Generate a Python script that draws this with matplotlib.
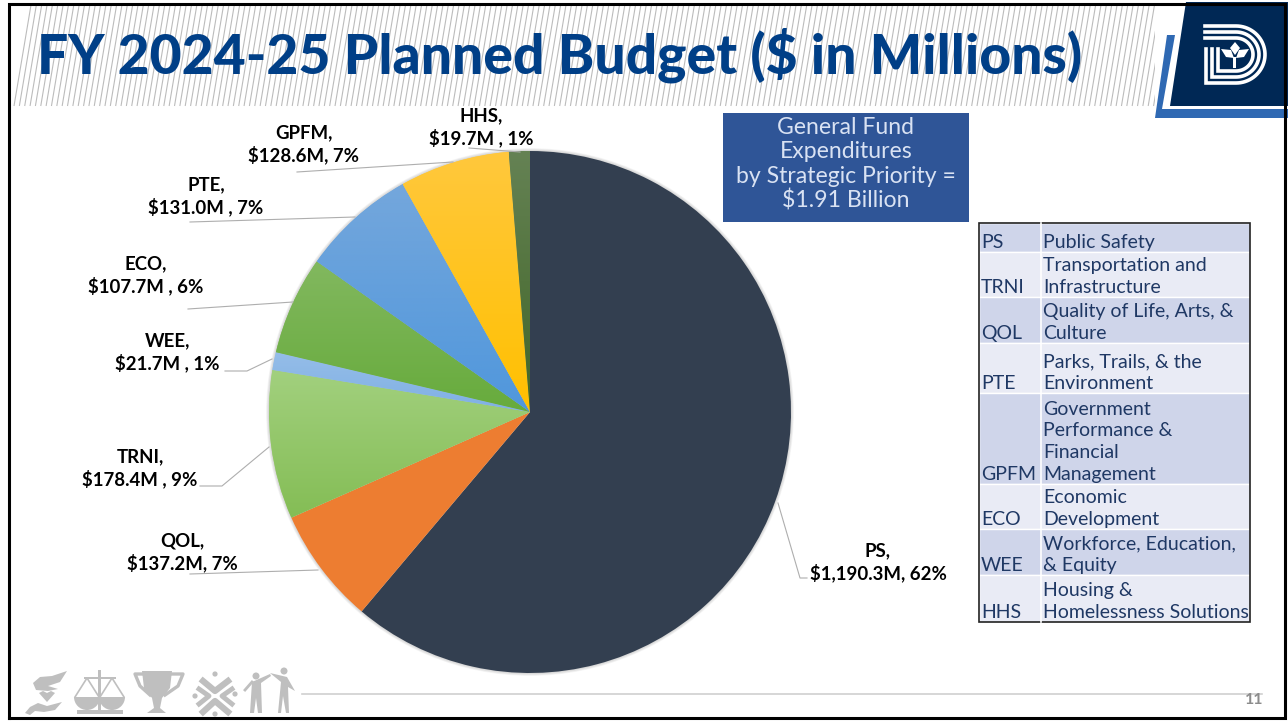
import matplotlib
matplotlib.use("Agg")
import matplotlib.pyplot as plt
import numpy as np
from matplotlib.collections import LineCollection
from matplotlib.patches import Polygon, Rectangle, Circle, Wedge

W, H = 1288, 721

title = "FY 2024-25 Planned Budget ($ in Millions)"
codes = ["PS", "QOL", "TRNI", "WEE", "ECO", "PTE", "GPFM", "HHS"]
# shares as the slices are drawn in the picture, in percent
shares = [61.1, 7.2, 9.2, 1.1, 6.1, 7.1, 6.8, 1.3]
amounts = ["$1,190.3M", "$137.2M", "$178.4M ", "$21.7M ", "$107.7M ", "$131.0M ", "$128.6M", "$19.7M "]
percents = ["62%", "7%", "9%", "1%", "6%", "7%", "7%", "1%"]
top_colors = ["#333f50", "#ed7d31", "#a2d07e", "#95bde8", "#82b85f", "#74a7dc", "#ffc83d", "#658254"]
bottom_colors = ["#333f50", "#ed7d31", "#84bd55", "#7fb0e4", "#67ab3c", "#5097dc", "#ffc000", "#416628"]

table_codes = ["PS", "TRNI", "QOL", "PTE", "GPFM", "ECO", "WEE", "HHS"]
table_names = ["Public Safety", "Transportation and\nInfrastructure", "Quality of Life, Arts, &\nCulture",
               "Parks, Trails, & the\nEnvironment", "Government\nPerformance &\nFinancial\nManagement",
               "Economic\nDevelopment", "Workforce, Education,\n& Equity", "Housing &\nHomelessness Solutions"]
row_edges = [223, 252, 297, 343, 393, 484, 529, 575, 622]

label_pos = {"PS": (878, 562), "QOL": (182.5, 552), "TRNI": (140, 468), "WEE": (167.5, 352),
             "ECO": (146, 275.5), "PTE": (206, 196), "GPFM": (303.5, 144.5), "HHS": (481.5, 127)}
leaders = {"PS": [(778, 503), (800, 578), (807, 578)], "QOL": [(318, 570), (190, 574)],
           "TRNI": [(269, 447), (222, 486), (200, 486)], "WEE": [(272, 359), (247, 371), (225, 371)],
           "ECO": [(293, 302), (188, 309)], "PTE": [(355, 217), (190, 222)],
           "GPFM": [(453, 162), (297, 172)], "HHS": [(520, 152), (469, 148)]}

FONT = "Lato"
fig = plt.figure(figsize=(W / 100, H / 100), dpi=100, facecolor="white")

# page layer in pixel coordinates
bg = fig.add_axes([0, 0, 1, 1], zorder=1)
bg.set_xlim(0, W)
bg.set_ylim(H, 0)
bg.axis("off")

# title band hatching
xs = np.arange(14, 1164, 5.35)
segs = [[(x, 106), (x + 17, 5)] for x in xs]
bg.add_collection(LineCollection(segs, colors="#bcbcbc", linewidths=0.8))
bg.add_patch(Polygon([(1155, 0), (1288, 0), (1288, 118), (1155, 118)], fc="white", ec="none", zorder=2))
bg.text(37, 55, title, fontsize=39.8, fontweight="black", color="#003f87", family=FONT, va="center", ha="left", zorder=3)

# logo
bg.add_patch(Polygon([(1186, 2), (1288, 2), (1288, 106), (1170, 106)], fc="#002855", ec="none", zorder=3))
bg.add_patch(Polygon([(1167, 35), (1175, 35), (1162, 109), (1288, 109), (1288, 118), (1155, 118)],
                     fc="#2f69b3", ec="none", zorder=3))
for top_y, bot_y, left, rad in [(26, 83, 1206, 29), (32, 77, 1212, 23), (38, 71, 1218, 17)]:
    t = np.linspace(np.pi / 2, -np.pi / 2, 40)
    mid = (top_y + bot_y) / 2
    arc_x = 1236 + rad * np.cos(t)
    arc_y = mid - (bot_y - top_y) / 2 * np.sin(t)
    px = np.concatenate([[1205], arc_x, [left, left]])
    py = np.concatenate([[top_y], arc_y, [bot_y, 49]])
    bg.plot(px, py, color="white", lw=2.6, solid_joinstyle="miter", zorder=4)
bg.add_patch(Polygon([(1235, 42), (1240, 48), (1235, 55), (1230, 48)], fc="white", ec="none", zorder=4))
bg.add_patch(Polygon([(1221, 49), (1231, 50), (1234, 58), (1226, 57)], fc="white", ec="none", zorder=4))
bg.add_patch(Polygon([(1249, 49), (1239, 50), (1236, 58), (1244, 57)], fc="white", ec="none", zorder=4))
bg.add_patch(Rectangle((1233.5, 57), 3, 11, fc="white", ec="none", zorder=4))

# slide border
bg.plot([9, 9, 1285, 1285, 9], [718, 4, 4, 718, 718], color="black", lw=2.2, zorder=5, solid_joinstyle="miter")

# footer
GREY = "#bfbfbf"
bg.plot([302, 1262], [694, 694], color="#d0d0d0", lw=1.2)
bg.text(1254, 700, "11", fontsize=11.5, fontweight="bold", color="#8c8c8c", family=FONT, ha="center", va="center")
# hands and heart
bg.add_patch(Polygon([(33, 683), (40, 677), (52, 676), (67, 671), (60, 682), (48, 686), (58, 689), (48, 691), (36, 690)], fc=GREY, ec="none"))
bg.add_patch(Polygon([(25, 713), (30, 707), (38, 703), (47, 706), (62, 702), (55, 710), (44, 712), (35, 711), (30, 715)], fc=GREY, ec="none"))
bg.add_patch(Polygon([(39, 693), (43, 691), (47, 693), (51, 691), (55, 693), (47, 702)], fc=GREY, ec="none"))
# scales
bg.add_patch(Rectangle((98, 670), 3.5, 40, fc=GREY, ec="none"))
bg.add_patch(Rectangle((77, 710), 46, 3.5, fc=GREY, ec="none"))
bg.add_patch(Rectangle((84, 677), 32, 2, fc=GREY, ec="none"))
bg.add_patch(Wedge((87, 697), 13, 0, 180, fc=GREY, ec="none"))
bg.add_patch(Wedge((112, 697), 13, 0, 180, fc=GREY, ec="none"))
bg.plot([75, 87, 99], [697, 678, 697], color=GREY, lw=1.2)
bg.plot([100, 112, 124], [697, 678, 697], color=GREY, lw=1.2)
# trophy
bg.add_patch(Polygon([(142, 671), (172, 671), (170, 688), (162, 698), (160, 708), (166, 713), (147, 713), (154, 708), (152, 698), (144, 688)], fc=GREY, ec="none"))
bg.plot([142, 135, 140, 150], [674, 674, 686, 695], color=GREY, lw=2.4)
bg.plot([172, 183, 178, 165], [674, 674, 686, 695], color=GREY, lw=2.4)
# crossed chevrons
bg.plot([203, 215, 228], [681, 691, 681], color=GREY, lw=4.5)
bg.plot([203, 215, 228], [712, 701, 712], color=GREY, lw=4.5)
bg.plot([199, 209, 199], [689, 696, 704], color=GREY, lw=3.5)
bg.plot([232, 222, 232], [689, 696, 704], color=GREY, lw=3.5)
for c in [(215, 674), (195, 696), (235, 694), (215, 714)]:
    bg.add_patch(Circle(c, 2.6, fc=GREY, ec="none"))
# two figures
bg.add_patch(Circle((256, 676), 3.5, fc=GREY, ec="none"))
bg.add_patch(Circle((284, 671), 3.5, fc=GREY, ec="none"))
bg.add_patch(Polygon([(252, 682), (270, 674), (271, 676), (261, 683), (262, 713), (258, 713), (256, 698), (254, 713), (250, 713)], fc=GREY, ec="none"))
bg.add_patch(Polygon([(270, 673), (287, 677), (295, 691), (288, 687), (289, 713), (286, 713), (283, 696), (281, 713), (278, 713), (281, 682)], fc=GREY, ec="none"))
bg.plot([245, 252], [690, 682], color=GREY, lw=2)

# pie
cx, cy, r = 530, 412, 261
ax = fig.add_axes([(cx - r) / W, 1 - (cy + r) / H, 2 * r / W, 2 * r / H], zorder=2)
ax.patch.set_alpha(0)
for o in range(5, 0, -1):
    ax.add_patch(Circle((0, 0), 1 + o * 0.0022, fc="#808080", alpha=0.07, ec="none", clip_on=False))
wedges, _ = ax.pie(shares, colors=top_colors, startangle=90, counterclock=False, radius=1)
for w, c1, c2 in zip(wedges, top_colors, bottom_colors):
    w.set_zorder(1)
    if c1 == c2:
        continue
    rgb = np.array([matplotlib.colors.to_rgb(c1), matplotlib.colors.to_rgb(c2)])
    grad = np.linspace(rgb[0], rgb[1], 256).reshape(256, 1, 3)
    bb = w.get_path().transformed(w.get_patch_transform()).get_extents()
    im = ax.imshow(grad, extent=[bb.x0, bb.x1, bb.y0, bb.y1], origin="upper", aspect="auto", zorder=2)
    im.set_clip_path(w)
ax.set_xlim(-1, 1)
ax.set_ylim(-1, 1)
ax.axis("off")

# labels, leaders, boxes on top
top = fig.add_axes([0, 0, 1, 1], zorder=3)
top.patch.set_alpha(0)
top.set_xlim(0, W)
top.set_ylim(H, 0)
top.axis("off")
for i, code in enumerate(codes):
    x, y = label_pos[code]
    top.text(x, y, f"{code},\n{amounts[i]}, {percents[i]}", fontsize=13.4, fontweight="bold", color="black",
             family=FONT, ha="center", va="center", linespacing=1.27)
    pts = np.array(leaders[code])
    top.plot(pts[:, 0], pts[:, 1], color="#aeaeae", lw=0.8)

top.add_patch(Rectangle((723, 113), 246, 109, fc="#2f5597", ec="none"))
top.text(846, 164.5, "General Fund\nExpenditures\nby Strategic Priority =\n$1.91 Billion", fontsize=16.6, color="#d9e2f3",
         family=FONT, ha="center", va="center", linespacing=1.19)

# abbreviations table
tx0, tx1, tx2 = 979, 1041, 1250
for i in range(len(table_codes)):
    y0, y1 = row_edges[i], row_edges[i + 1]
    fc = "#cfd5ea" if i % 2 == 0 else "#e9ebf5"
    top.add_patch(Rectangle((tx0, y0), tx2 - tx0, y1 - y0, fc=fc, ec="white", lw=1))
    top.text(tx0 + 2, y1 - 1, table_codes[i], fontsize=14, color="#1f3864", family=FONT, ha="left", va="bottom")
    top.text(tx1 + 2, y1 - 1, table_names[i], fontsize=14, color="#1f3864", family=FONT, ha="left", va="bottom", linespacing=1.34)
top.plot([tx1, tx1], [row_edges[0], row_edges[-1]], color="white", lw=1.2)
top.add_patch(Rectangle((tx0, row_edges[0]), tx2 - tx0, row_edges[-1] - row_edges[0], fc="none", ec="#222222", lw=1.2))

fig.savefig("out.png", dpi=100)
